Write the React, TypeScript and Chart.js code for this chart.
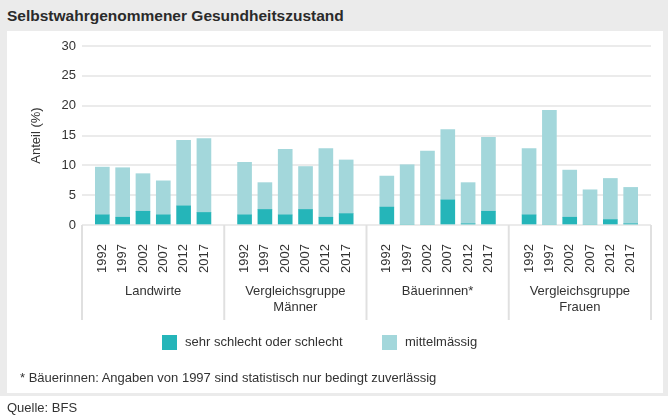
import React, { useEffect, useRef } from 'react';
import { Chart, registerables } from 'chart.js';

Chart.register(...registerables);

const years = ['1992', '1997', '2002', '2007', '2012', '2017'];
const groupLabels: string[][] = [
  ['Landwirte'],
  ['Vergleichsgruppe', 'Männer'],
  ['Bäuerinnen*'],
  ['Vergleichsgruppe', 'Frauen'],
];

const schlechtLandwirte = [1.7, 1.3, 2.3, 1.7, 3.2, 2.1];
const mittelLandwirte = [8.0, 8.3, 6.3, 5.7, 11.0, 12.4];
const schlechtMaenner = [1.7, 2.6, 1.7, 2.6, 1.3, 1.9];
const mittelMaenner = [8.8, 4.5, 11.0, 7.2, 11.5, 9.0];
const schlechtBaeuerinnen = [3.0, 0, 0, 4.2, 0.2, 2.3];
const mittelBaeuerinnen = [5.2, 10.1, 12.4, 11.8, 6.9, 12.4];
const schlechtFrauen = [1.7, 0, 1.3, 0, 0.9, 0.2];
const mittelFrauen = [11.1, 19.2, 7.9, 5.9, 6.9, 6.1];

const seriesNames = ['sehr schlecht oder schlecht', 'mittelmässig'];
const seriesColors = ['#25b5b9', '#a3d7db'];
const yMin = 0;
const yMax = 30;
const yStep = 5;

const FONT = '"Liberation Sans", Arial, sans-serif';
const TEXT = '#333333';
const FS = 13;

// category axis: blank slot between groups (used for separators)
const labels: string[] = [''];
groupLabels.forEach(() => {
  labels.push(...years, '');
});

function spread(groups: number[][]): (number | null)[] {
  const out: (number | null)[] = [null];
  groups.forEach((g) => {
    out.push(...g, null);
  });
  return out;
}

const schlechtData = spread([schlechtLandwirte, schlechtMaenner, schlechtBaeuerinnen, schlechtFrauen]);
const mittelData = spread([mittelLandwirte, mittelMaenner, mittelBaeuerinnen, mittelFrauen]);

const groupPlugin = {
  id: 'groupAxis',
  afterDraw(chart: any) {
    const x = chart.scales.x;
    const { ctx, chartArea } = chart;
    const slot = years.length + 1;
    ctx.save();
    ctx.strokeStyle = '#e0e0e0';
    ctx.lineWidth = 2;
    for (let g = 0; g <= groupLabels.length; g++) {
      const px = x.getPixelForValue(g * slot);
      ctx.beginPath();
      ctx.moveTo(px, chartArea.bottom);
      ctx.lineTo(px, chartArea.bottom + 95);
      ctx.stroke();
    }
    ctx.fillStyle = TEXT;
    ctx.font = FS + 'px ' + FONT;
    ctx.textAlign = 'center';
    ctx.textBaseline = 'middle';
    groupLabels.forEach((lines, g) => {
      const cx = (x.getPixelForValue(g * slot) + x.getPixelForValue((g + 1) * slot)) / 2;
      lines.forEach((t, i) => {
        ctx.fillText(t, cx, chartArea.bottom + 66 + i * 16);
      });
    });
    ctx.restore();
  },
};

export default function App() {
  const ref = useRef<HTMLCanvasElement | null>(null);

  useEffect(() => {
    if (!ref.current) return;
    const chart = new Chart(ref.current, {
      type: 'bar',
      data: {
        labels,
        datasets: [
          {
            label: seriesNames[0],
            data: schlechtData,
            backgroundColor: seriesColors[0],
            barThickness: 14,
          },
          {
            label: seriesNames[1],
            data: mittelData,
            backgroundColor: seriesColors[1],
            barThickness: 14,
          },
        ],
      },
      options: {
        responsive: false,
        animation: false,
        devicePixelRatio: 1,
        layout: { padding: { left: 20, top: 46, right: 17, bottom: 98 } },
        plugins: {
          legend: { display: false },
          title: { display: false },
          tooltip: { enabled: false },
        },
        scales: {
          x: {
            stacked: true,
            offset: false,
            grid: { display: false },
            border: { display: false },
            ticks: {
              autoSkip: false,
              maxRotation: 90,
              minRotation: 90,
              padding: 11,
              color: TEXT,
              font: { family: FONT, size: FS },
            },
            afterFit: (s: any) => {
              s.height = 95;
              s.paddingLeft = 0;
              s.paddingRight = 0;
            },
          },
          y: {
            stacked: true,
            min: yMin,
            max: yMax,
            ticks: {
              stepSize: yStep,
              padding: 6,
              color: TEXT,
              font: { family: FONT, size: FS },
            },
            grid: { color: '#ebebeb', lineWidth: 2, drawTicks: false },
            border: { display: false },
            title: {
              display: true,
              text: 'Anteil (%)',
              color: TEXT,
              font: { family: FONT, size: FS },
              padding: { top: 9, bottom: 0 },
            },
            afterFit: (s: any) => {
              s.width = 62;
            },
          },
        },
      },
      plugins: [groupPlugin],
    });
    return () => chart.destroy();
  }, []);

  const legendItems = [
    { x: 162, name: seriesNames[0], color: seriesColors[0] },
    { x: 382, name: seriesNames[1], color: seriesColors[1] },
  ];

  return (
    <div
      style={{
        position: 'absolute',
        left: 0,
        top: 0,
        width: 668,
        height: 418,
        background: '#ffffff',
        fontFamily: FONT,
        color: TEXT,
        overflow: 'hidden',
      }}
    >
      <div style={{ position: 'absolute', left: 0, top: 0, width: 668, height: 396, background: '#ebebeb' }} />
      <div style={{ position: 'absolute', left: 7, top: 31, width: 656, height: 362, background: '#ffffff' }} />
      <div
        style={{
          position: 'absolute',
          left: 7,
          top: 4,
          fontSize: 15.5,
          fontWeight: 'bold',
          lineHeight: '24px',
          color: '#2a2a2a',
          whiteSpace: 'nowrap',
        }}
      >
        Selbstwahrgenommener Gesundheitszustand
      </div>
      <canvas ref={ref} width={668} height={418} style={{ position: 'absolute', left: 0, top: 0 }} />
      {legendItems.map((it) => (
        <div key={it.name} style={{ position: 'absolute', left: it.x, top: 334, height: 16, display: 'flex', alignItems: 'center', whiteSpace: 'nowrap' }}>
          <span style={{ display: 'inline-block', width: 15, height: 15, background: it.color, marginRight: 8 }} />
          <span style={{ fontSize: FS, lineHeight: '16px' }}>{it.name}</span>
        </div>
      ))}
      <div style={{ position: 'absolute', left: 20, top: 369, fontSize: FS, lineHeight: '18px', whiteSpace: 'nowrap' }}>
        * Bäuerinnen: Angaben von 1997 sind statistisch nur bedingt zuverlässig
      </div>
      <div style={{ position: 'absolute', left: 7, top: 399, fontSize: FS, lineHeight: '18px', whiteSpace: 'nowrap' }}>
        Quelle: BFS
      </div>
    </div>
  );
}
